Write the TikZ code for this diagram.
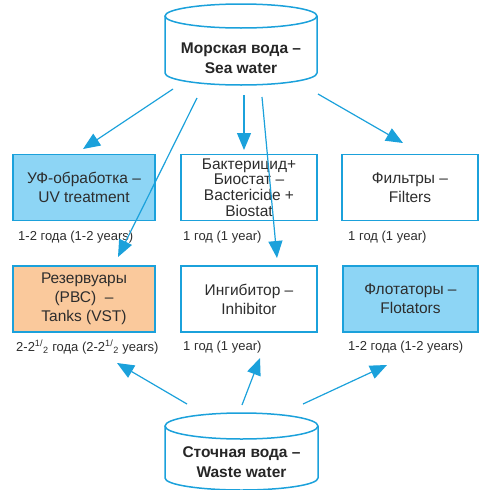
\documentclass[tikz,border=0pt]{standalone}
\usepackage{fontspec}
\setmainfont{Liberation Sans}
\usetikzlibrary{arrows.meta}

\definecolor{lineblue}{RGB}{27,161,219}
\definecolor{fillblue}{RGB}{141,213,245}
\definecolor{fillorange}{RGB}{250,201,156}
\definecolor{txtgray}{RGB}{45,45,45}

\tikzset{
	box/.style={draw=lineblue,line width=1.5pt,minimum height=66pt,align=center,inner sep=0pt,text=txtgray,font=\fontsize{15.5}{19}\selectfont},
	lbl/.style={anchor=west,inner sep=0pt,text=txtgray,font=\fontsize{13}{15}\selectfont},
	tank/.style={draw=lineblue,line width=1.5pt},
	tanktext/.style={align=center,inner sep=0pt,text=black!85,font=\bfseries\fontsize{15.5}{20}\selectfont},
	flow/.style={draw=lineblue,line width=1.2pt,-{Triangle[length=17pt,width=14pt]}}
}

\begin{document}
\begin{tikzpicture}[x=1pt,y=-1pt]
			\useasboundingbox (0,0) rectangle (479,490);
			% sea water tank
			\draw[tank] (241,16) ellipse [x radius=76pt,y radius=12pt];
			\draw[tank] (165,16) -- (165,73) arc [start angle=180,end angle=360,x radius=76pt,y radius=12pt] -- (317,16);
			\draw (241,58) node [tanktext] (sea) {Морская вода --\\Sea water};
			% waste water tank
			\draw[tank] (241.5,426) ellipse [x radius=76.5pt,y radius=13pt];
			\draw[tank] (165,426) -- (165,478) arc [start angle=180,end angle=360,x radius=76.5pt,y radius=12pt] -- (318,426);
			\draw (241.5,462) node [tanktext] (waste) {Сточная вода --\\Waste water};
			% first row
			\draw (84,187.5) node [box,fill=fillblue,minimum width=142pt] (uv) {УФ-обработка --\\UV treatment};
			\draw (18,237) node [lbl] (uvl) {1-2 года (1-2 years)};
			\draw (249,187.5) node [box,minimum width=136pt,font=\fontsize{15.5}{15.7}\selectfont] (bact) {Бактерицид+\\Биостат --\\Bactericide +\\Biostat};
			\draw (183,237) node [lbl] (bactl) {1 год (1 year)};
			\draw (410,187.5) node [box,minimum width=136pt] (filt) {Фильтры --\\Filters};
			\draw (348,237) node [lbl] (filtl) {1 год (1 year)};
			% second row
			\draw (84,299) node [box,fill=fillorange,minimum width=142pt] (tanks) {Резервуары\\(РВС)~ --\\Tanks (VST)};
			\draw (16,347) node [lbl] (tanksl) {2-2\textsuperscript{1/}\textsubscript{2} года (2-2\textsuperscript{1/}\textsubscript{2} years)};
			\draw (249,299) node [box,minimum width=136pt] (inh) {Ингибитор --\\Inhibitor};
			\draw (183,347) node [lbl] (inhl) {1 год (1 year)};
			\draw (410.5,299) node [box,fill=fillblue,minimum width=135pt] (flot) {Флотаторы --\\Flotators};
			\draw (348,347) node [lbl] (flotl) {1-2 года (1-2 years)};
			% arrow ends
			\coordinate (s1) at (173,89);
			\coordinate (s2) at (244,95);
			\coordinate (s3) at (197,98);
			\coordinate (s4) at (262,97);
			\coordinate (s5) at (318,94);
			\coordinate (t1) at (83,149);
			\coordinate (t2) at (244,150);
			\coordinate (t3) at (118,257);
			\coordinate (t4) at (277,258);
			\coordinate (t5) at (403,143);
			\coordinate (w1) at (187,404);
			\coordinate (w2) at (242,405);
			\coordinate (w3) at (303,404);
			\coordinate (u1) at (117,363);
			\coordinate (u2) at (260,358);
			\coordinate (u3) at (387,365);
			\draw[flow] (s1) -- (t1);
			\draw[flow] (s2) -- (t2);
			\draw[flow] (s3) -- (t3);
			\draw[flow] (s4) -- (t4);
			\draw[flow] (s5) -- (t5);
			\draw[flow] (w1) -- (u1);
			\draw[flow] (w2) -- (u2);
			\draw[flow] (w3) -- (u3);
		\end{tikzpicture}
\end{document}
